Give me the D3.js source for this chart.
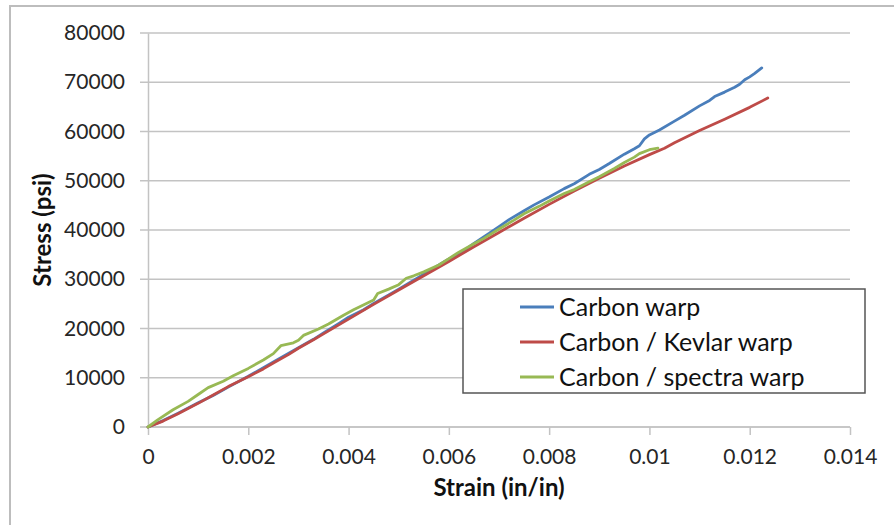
<!DOCTYPE html>
<html><head><meta charset="utf-8">
<script src="https://cdn.jsdelivr.net/npm/d3@7"></script>
<style>html,body{margin:0;padding:0;background:#fff;}svg{display:block;font-family:Lato,"Open Sans",sans-serif;}</style>
</head><body>
<script>
// ---- data (strain in/in, stress psi) ----
const seriesNames = ["Carbon warp", "Carbon / Kevlar warp", "Carbon / spectra warp"];
const seriesColors = ["#4A7EBB", "#BE4B48", "#98B954"];
const carbonWarp = [
  [0,0],[0.0003,1300],[0.0006,2800],[0.001,4900],[0.0013,6400],[0.0016,8100],[0.002,10300],
  [0.0025,13200],[0.003,16100],[0.0033,17800],[0.0035,19100],[0.0038,21000],[0.004,22300],
  [0.0043,23800],[0.0045,25100],[0.0048,26800],[0.005,28000],[0.0055,31000],[0.0058,32900],
  [0.006,34100],[0.0063,35800],[0.0065,37300],[0.0068,39300],[0.007,40700],[0.0072,42100],
  [0.0075,43900],[0.0077,45100],[0.008,46700],[0.0083,48400],[0.0085,49400],
  [0.0088,51300],[0.009,52300],[0.0092,53500],[0.0095,55400],[0.0097,56500],[0.0098,57100],
  [0.0099,58500],[0.01,59300],[0.0102,60300],[0.0105,62100],[0.0107,63300],
  [0.011,65200],[0.0112,66300],[0.0113,67100],[0.0115,68000],[0.0117,69000],[0.0118,69600],
  [0.0119,70500],[0.012,71100],[0.0121,71800],[0.01224,72900]
];
const kevlarWarp = [
  [0,0],[0.0003,1200],[0.0006,2700],[0.001,4800],[0.0013,6500],[0.0016,8200],[0.002,10200],
  [0.0023,11800],[0.0025,13000],[0.0028,14700],[0.003,16000],[0.0033,17700],[0.0035,18900],
  [0.004,21900],[0.0045,24900],[0.005,27800],[0.0055,30700],[0.006,33600],[0.0065,36600],
  [0.007,39500],[0.0075,42400],[0.008,45200],[0.0085,47900],[0.009,50500],[0.0095,53000],
  [0.01,55300],[0.0103,56600],[0.0105,57700],[0.011,60200],[0.0115,62500],[0.012,64900],
  [0.01236,66800]
];
const spectraWarp = [
  [0,0],[0.0002,1500],[0.0005,3500],[0.0008,5200],[0.001,6600],[0.0012,8000],[0.0015,9300],
  [0.0017,10400],[0.002,11900],[0.0023,13600],[0.0025,14900],[0.00265,16500],[0.0029,17100],
  [0.003,17600],[0.0031,18600],[0.0034,19900],[0.0036,20900],[0.0039,22700],[0.0041,23800],
  [0.0045,25800],[0.00458,27100],[0.0048,28000],[0.005,28900],[0.00515,30200],[0.0053,30700],
  [0.0055,31500],[0.0058,32900],[0.006,34200],[0.0062,35500],[0.0065,37200],[0.0067,38300],
  [0.007,40200],[0.0073,42000],[0.0075,43300],[0.0078,44800],[0.008,45900],[0.0083,47400],
  [0.0085,48200],[0.0088,49800],[0.009,50800],[0.0093,52500],[0.0095,53700],[0.0097,54800],
  [0.0098,55500],[0.01,56300],[0.01017,56600]
];
const allSeries = [carbonWarp, kevlarWarp, spectraWarp];
const xTicks = [0, 0.002, 0.004, 0.006, 0.008, 0.01, 0.012, 0.014];
const xTickLabels = ["0", "0.002", "0.004", "0.006", "0.008", "0.01", "0.012", "0.014"];
const yTicks = [0, 10000, 20000, 30000, 40000, 50000, 60000, 70000, 80000];
const xTitle = "Strain (in/in)";
const yTitle = "Stress (psi)";

// ---- layout ----
const W = 894, H = 525;
const L = 148, R = 850, T = 33, B = 427;
const svg = d3.select("body").append("svg").attr("width", W).attr("height", H);

svg.append("rect").attr("x", 10).attr("y", 6).attr("width", 900).attr("height", 530)
  .attr("fill", "#fff").attr("stroke", "#bdbdbd").attr("stroke-width", 2);

const x = d3.scaleLinear().domain([0, 0.014]).range([L, R]);
const y = d3.scaleLinear().domain([0, 80000]).range([B, T]);

// gridlines
svg.append("g").selectAll("line").data(yTicks).join("line")
  .attr("x1", L - 8).attr("x2", R).attr("y1", d => y(d)).attr("y2", d => y(d))
  .attr("stroke", "#c3c3c3").attr("stroke-width", 1.5);

// y axis
const yAxis = svg.append("g").attr("transform", `translate(${L},0)`)
  .call(d3.axisLeft(y).tickValues(yTicks).tickFormat(d3.format("d")).tickSize(0).tickPadding(23));
yAxis.select(".domain").attr("stroke", "#c3c3c3").attr("stroke-width", 1.5);
yAxis.selectAll("text").attr("font-size", 21).attr("fill", "#262626").attr("font-family", "Lato");

// x axis
const xAxis = svg.append("g").attr("transform", `translate(0,${B})`)
  .call(d3.axisBottom(x).tickValues(xTicks).tickFormat((d, i) => xTickLabels[i]).tickSize(8).tickPadding(14));
xAxis.select(".domain").attr("stroke", "#c3c3c3").attr("stroke-width", 1.5).attr("d", `M${L},0H${R}`);
xAxis.selectAll(".tick line").attr("stroke", "#c3c3c3").attr("stroke-width", 1.5);
xAxis.selectAll("text").attr("font-size", 21).attr("fill", "#262626").attr("font-family", "Lato");

// lines
const line = d3.line().x(d => x(d[0])).y(d => y(d[1]));
svg.append("g").selectAll("path").data(allSeries).join("path")
  .attr("d", line).attr("fill", "none")
  .attr("stroke", (d, i) => seriesColors[i]).attr("stroke-width", 2.8)
  .attr("stroke-linejoin", "round").attr("stroke-linecap", "round");

// axis titles
svg.append("text").attr("x", (L + R) / 2).attr("y", 496).attr("text-anchor", "middle")
  .attr("font-size", 24).attr("font-weight", "bold").attr("fill", "#111").text(xTitle);
svg.append("text").attr("transform", `translate(51,${(T + B) / 2}) rotate(-90)`)
  .attr("text-anchor", "middle").attr("font-size", 24).attr("font-weight", "bold")
  .attr("fill", "#111").text(yTitle);

// legend
const lg = svg.append("g");
lg.append("rect").attr("x", 463).attr("y", 289).attr("width", 402).attr("height", 104)
  .attr("fill", "#fff").attr("stroke", "#555").attr("stroke-width", 1.5);
const items = lg.selectAll("g.item").data(seriesNames).join("g")
  .attr("transform", (d, i) => `translate(520,${307 + i * 35})`);
items.append("line").attr("x1", 0).attr("x2", 34).attr("stroke", (d, i) => seriesColors[i]).attr("stroke-width", 2.8);
items.append("text").attr("x", 39).attr("dy", "0.35em").attr("font-size", 25).attr("fill", "#111").text(d => d);
</script>
</body></html>
